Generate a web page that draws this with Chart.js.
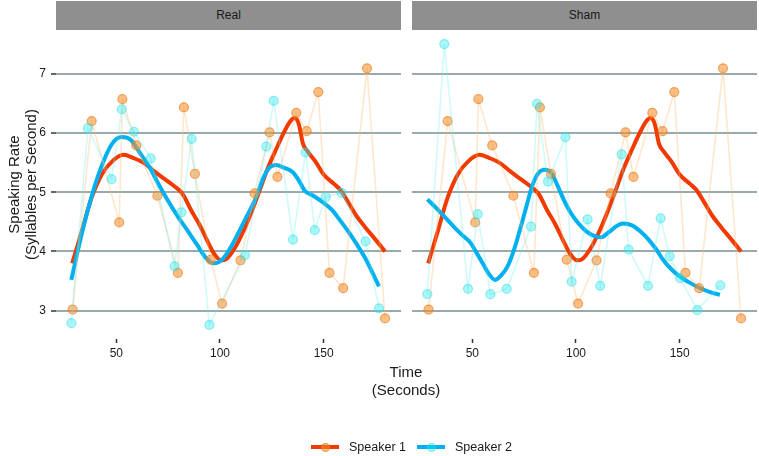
<!DOCTYPE html>
<html>
<head>
<meta charset="utf-8">
<script src="https://cdn.jsdelivr.net/npm/chart.js@4/dist/chart.umd.min.js"></script>
<style>
  html, body { margin: 0; padding: 0; background: #ffffff; }
  body { width: 759px; height: 456px; position: relative; overflow: hidden;
         font-family: "Liberation Sans", Arial, Helvetica, sans-serif; color: #1a1a1a; }
  canvas { position: absolute; }
  .strip { position: absolute; top: 1px; height: 29px; background: #8f8f8f;
           font-size: 12px; line-height: 29px; text-align: center; color: #1a1a1a; }
  .xtitle { position: absolute; left: 306px; width: 200px; text-align: center;
            font-size: 15px; line-height: 18px; top: 363px; }
  .legend { position: absolute; top: 439px; height: 16px; font-size: 12.5px; }
  .key { position: absolute; top: 6px; width: 28px; height: 4px; }
  .dot { position: absolute; top: 3.5px; width: 9px; height: 9px; border-radius: 50%; box-sizing: border-box; }
  .lab { position: absolute; top: 0; line-height: 16px; white-space: nowrap; }
</style>
</head>
<body>
<div class="strip" id="stripL" style="left:56px;width:345px;"></div>
<div class="strip" id="stripR" style="left:412px;width:345px;"></div>
<canvas id="cL" width="401" height="340" style="left:0;top:30px;width:401px;height:340px;"></canvas>
<canvas id="cR" width="347" height="340" style="left:412px;top:30px;width:347px;height:340px;"></canvas>
<div class="xtitle" id="xtitle"></div>
<div class="legend" id="legend" style="left:0;width:759px;"></div>
<script>
// ---------------- data ----------------
const panels = ['Real', 'Sham'];
const speakers = ['Speaker 1', 'Speaker 2'];
const xTitle = ['Time', '(Seconds)'];
const yTitle = ['Speaking Rate', '(Syllables per Second)'];
const xTicks = [50, 100, 150];
const yTicks = [3, 4, 5, 6, 7];

// Speaker 1 (same in both panels)
const timeS1 = [28.9, 38.1, 51.4, 52.9, 59.6, 69.8, 79.7, 82.6, 87.9, 95.5, 101.0,
                109.9, 116.7, 123.9, 127.7, 136.8, 141.8, 147.4, 152.8, 159.4, 170.9, 179.6];
const rateS1 = [3.02, 6.20, 4.49, 6.57, 5.79, 4.94, 3.64, 6.43, 5.31, 3.86, 3.12,
                3.85, 4.98, 6.01, 5.26, 6.34, 6.03, 6.69, 3.64, 3.38, 7.09, 2.87];

// Speaker 2, Real
const timeS2Real = [28.3, 36.3, 47.7, 52.6, 58.5, 66.6, 78.1, 81.4, 86.3, 94.9,
                    112.1, 122.3, 125.9, 135.2, 141.3, 145.7, 151.0, 158.7, 170.2, 176.7];
const rateS2Real = [2.79, 6.08, 5.22, 6.40, 6.02, 5.57, 3.75, 4.66, 5.90, 2.76,
                    3.94, 5.77, 6.54, 4.20, 5.67, 4.36, 4.92, 4.99, 4.17, 3.04];

// Speaker 2, Sham
const timeS2Sham = [28.3, 36.5, 47.9, 52.6, 58.7, 66.6, 78.3, 81.2, 86.5, 94.9, 97.9,
                    105.6, 111.7, 122.0, 125.4, 134.7, 140.8, 145.2, 150.2, 158.5, 169.6];
const rateS2Sham = [3.28, 7.50, 3.37, 4.63, 3.28, 3.37, 4.42, 6.49, 5.18, 5.93, 3.49,
                    4.54, 3.42, 5.64, 4.03, 3.42, 4.56, 3.92, 3.55, 3.01, 3.43];

// Smoothed curves
const smoothTimeS1 = [28.7, 33, 38, 43, 48, 53.5, 58, 63, 68, 73, 78, 82, 86, 90, 94, 97, 100.5,
                      103, 107, 111, 115, 119, 123, 127, 131, 134, 136, 138, 140, 142, 146, 150,
                      155, 158, 162, 166, 170, 175, 179.6];
const smoothRateS1 = [3.80, 4.30, 4.90, 5.30, 5.52, 5.63, 5.58, 5.50, 5.36, 5.23, 5.10, 4.97, 4.70,
                      4.46, 4.17, 3.97, 3.85, 3.87, 4.05, 4.32, 4.65, 5.02, 5.40, 5.72, 6.02,
                      6.20, 6.25, 6.15, 5.82, 5.70, 5.52, 5.30, 5.14, 5.04, 4.82, 4.59, 4.41,
                      4.20, 4.00];

const smoothTimeS2Real = [28.3, 33, 38, 43, 48, 52.6, 57, 62, 66, 70, 75, 80, 85, 89, 93, 97, 101,
                          105, 109, 113, 117, 121, 124, 127, 131, 135, 138, 141, 145, 150, 154,
                          158, 162, 166, 170, 173, 176.7];
const smoothRateS2Real = [3.52, 4.25, 4.92, 5.45, 5.82, 5.93, 5.88, 5.63, 5.42, 5.16, 4.85, 4.57,
                          4.32, 4.11, 3.90, 3.80, 3.86, 4.06, 4.32, 4.60, 4.88, 5.25, 5.42, 5.46,
                          5.41, 5.34, 5.20, 5.02, 4.94, 4.82, 4.70, 4.52, 4.33, 4.12, 3.89, 3.68,
                          3.41];

const smoothTimeS2Sham = [28.3, 33, 37, 41, 45, 49, 52, 55, 58, 61, 64, 67, 70, 73, 76, 79, 82, 85,
                          88, 91, 94, 97, 101, 105, 109, 112, 116, 120, 123, 127, 131, 135, 139,
                          142, 146, 150, 155, 160, 165, 169.4];
const smoothRateS2Sham = [4.88, 4.72, 4.57, 4.42, 4.28, 4.15, 3.98, 3.80, 3.62, 3.52, 3.60, 3.75,
                          4.02, 4.37, 4.75, 5.12, 5.33, 5.38, 5.33, 5.12, 4.88, 4.68, 4.48, 4.34,
                          4.26, 4.24, 4.33, 4.44, 4.47, 4.44, 4.34, 4.20, 4.02, 3.86, 3.70, 3.58,
                          3.47, 3.38, 3.31, 3.27];

// ---------------- styles ----------------
const FONT = '"Liberation Sans", Arial, Helvetica, sans-serif';
const RED = 'rgb(242,58,0)';
const BLUE = 'rgb(0,176,240)';
const ORANGE_FILL = 'rgba(245,140,40,0.55)';
const ORANGE_EDGE = 'rgba(235,125,25,0.65)';
const ORANGE_LINE = 'rgba(252,185,115,0.35)';
const CYAN_FILL = 'rgba(40,230,235,0.38)';
const CYAN_EDGE = 'rgba(40,225,235,0.5)';
const CYAN_LINE = 'rgba(110,235,240,0.32)';
const GRID = '#9aaaaa';
const TXT = '#1a1a1a';
const X_MIN = 20.9, X_MAX = 187.3, Y_MIN = 2.523, Y_MAX = 7.737;

const pts = (t, v) => t.map((x, i) => ({ x: x, y: v[i] }));

function makeChart(id, s2t, s2v, s2st, s2sv, showY) {
  const datasets = [
    { label: speakers[1], data: pts(s2t, s2v), order: 0, showLine: true, tension: 0,
      borderColor: CYAN_LINE, borderWidth: 1.6, pointRadius: 4.5,
      pointBackgroundColor: CYAN_FILL, pointBorderColor: CYAN_EDGE, pointBorderWidth: 1.2 },
    { label: speakers[0], data: pts(timeS1, rateS1), order: 1, showLine: true, tension: 0,
      borderColor: ORANGE_LINE, borderWidth: 1.6, pointRadius: 4.5,
      pointBackgroundColor: ORANGE_FILL, pointBorderColor: ORANGE_EDGE, pointBorderWidth: 1.2 },
    { label: speakers[1] + ' smooth', data: pts(s2st, s2sv), order: 2, showLine: true,
      tension: 0.4, cubicInterpolationMode: 'monotone', borderColor: BLUE, borderWidth: 4,
      pointRadius: 0, borderCapStyle: 'butt', borderJoinStyle: 'round' },
    { label: speakers[0] + ' smooth', data: pts(smoothTimeS1, smoothRateS1), order: 3, showLine: true,
      tension: 0.4, cubicInterpolationMode: 'monotone', borderColor: RED, borderWidth: 4,
      pointRadius: 0, borderCapStyle: 'butt', borderJoinStyle: 'round' }
  ];
  return new Chart(document.getElementById(id), {
    type: 'scatter',
    data: { datasets: datasets },
    options: {
      responsive: false, animation: false, events: [],
      layout: { autoPadding: false, padding: { left: 0, right: showY ? 0 : 2, top: 0, bottom: 0 } },
      plugins: { legend: { display: false }, tooltip: { enabled: false } },
      scales: {
        x: {
          type: 'linear', min: X_MIN, max: X_MAX,
          afterBuildTicks: s => { s.ticks = xTicks.map(v => ({ value: v })); },
          afterFit: s => { s.height = 31; s.paddingLeft = 0; s.paddingRight = 0; },
          border: { display: false },
          grid: { drawOnChartArea: false, drawTicks: true, tickLength: 4,
                  tickColor: '#333333', tickWidth: 1.5, color: '#333333' },
          ticks: { font: { family: FONT, size: 12 }, color: TXT, padding: 3, maxRotation: 0 }
        },
        y: {
          type: 'linear', min: Y_MIN, max: Y_MAX,
          afterBuildTicks: s => { s.ticks = yTicks.map(v => ({ value: v })); },
          afterFit: s => { s.width = showY ? 56 : 0; s.paddingTop = 0; s.paddingBottom = 0; },
          border: { display: false },
          grid: { color: GRID, lineWidth: 2, drawTicks: showY, tickLength: 5,
                  tickColor: '#333333', tickWidth: 1.5 },
          ticks: { display: showY, font: { family: FONT, size: 12 }, color: TXT, padding: 5 },
          title: { display: showY, text: yTitle, color: TXT,
                   font: { family: FONT, size: 15, lineHeight: 1.15 }, padding: { top: 6, bottom: 0 } }
        }
      }
    }
  });
}

makeChart('cL', timeS2Real, rateS2Real, smoothTimeS2Real, smoothRateS2Real, true);
makeChart('cR', timeS2Sham, rateS2Sham, smoothTimeS2Sham, smoothRateS2Sham, false);

// ---------------- text elements ----------------
document.getElementById('stripL').textContent = panels[0];
document.getElementById('stripR').textContent = panels[1];
document.getElementById('xtitle').innerHTML = xTitle.join('<br>');

const lg = document.getElementById('legend');
const legendItems = [
  { x: 311, color: RED, fill: ORANGE_FILL, edge: ORANGE_EDGE, text: speakers[0] },
  { x: 417, color: BLUE, fill: CYAN_FILL, edge: CYAN_EDGE, text: speakers[1] }
];
legendItems.forEach(it => {
  const k = document.createElement('div');
  k.className = 'key'; k.style.left = it.x + 'px'; k.style.background = it.color;
  lg.appendChild(k);
  const d = document.createElement('div');
  d.className = 'dot'; d.style.left = (it.x + 9.5) + 'px';
  d.style.background = it.fill; d.style.border = '1px solid ' + it.edge;
  lg.appendChild(d);
  const t = document.createElement('div');
  t.className = 'lab'; t.style.left = (it.x + 38) + 'px'; t.textContent = it.text;
  lg.appendChild(t);
});
</script>
</body>
</html>
